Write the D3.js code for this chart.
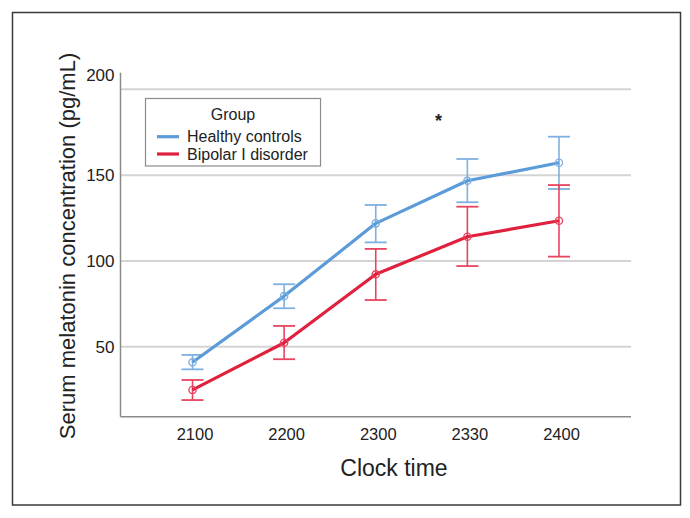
<!DOCTYPE html>
<html>
<head>
<meta charset="utf-8">
<script src="https://cdn.jsdelivr.net/npm/d3@7/dist/d3.min.js"></script>
<style>
  html, body { margin: 0; padding: 0; background: #fff; }
  svg { display: block; font-family: "Liberation Sans", Arial, Helvetica, sans-serif; }
</style>
</head>
<body>
<svg id="chart" width="690" height="518"></svg>
<script>
// ---- data ----
const times = ["2100", "2200", "2300", "2330", "2400"];
const healthyMean = [40.9, 79.5, 121.9, 146.7, 157.2];
const healthyLow  = [36.8, 72.4, 110.8, 134.2, 141.9];
const healthyHigh = [45.2, 86.4, 132.6, 159.4, 172.4];
const bipolarMean = [24.8, 52.3, 92.2, 114.1, 123.4];
const bipolarLow  = [18.9, 42.7, 77.2, 97.0, 102.5];
const bipolarHigh = [30.6, 62.1, 107.0, 131.6, 144.2];
const yTicks = [50, 100, 150, 200];
const seriesNames = ["Healthy controls", "Bipolar I disorder"];
const legendTitle = "Group";
const xTitle = "Clock time";
const yTitle = "Serum melatonin concentration (pg/mL)";
const sigMarkValue = 183;

// ---- setup ----
const svg = d3.select("#chart");
const pLeft = 120.5, pRight = 631, pTop = 72.7, pBottom = 416.7;

const x = d3.scalePoint().domain(times).range([pLeft, pRight]).padding(0.786);
const y = d3.scaleLinear().domain([9.2, 209.7]).range([pBottom, pTop]);

const series = [
  { name: seriesNames[0], mean: healthyMean, low: healthyLow, high: healthyHigh,
    line: "#5b9bd8", bar: "#7eb0e2" },
  { name: seriesNames[1], mean: bipolarMean, low: bipolarLow, high: bipolarHigh,
    line: "#e0213e", bar: "#e8445f" }
];

// outer frame
svg.append("rect").attr("x", 12.5).attr("y", 12.5).attr("width", 668).attr("height", 492.5)
  .attr("fill", "none").attr("stroke", "#3a3a3a").attr("stroke-width", 1.5);

// gridlines
svg.append("g").selectAll("line").data(yTicks).join("line")
  .attr("x1", pLeft).attr("x2", pRight)
  .attr("y1", d => y(d)).attr("y2", d => y(d))
  .attr("stroke", "#d4d4d4").attr("stroke-width", 2);

// axes
const yAxis = d3.axisLeft(y).tickValues(yTicks).tickSize(0).tickPadding(6);
const gy = svg.append("g").attr("transform", `translate(${pLeft},0)`).call(yAxis);
gy.select(".domain").attr("stroke", "#8a8a8a").attr("stroke-width", 1.5)
  .attr("d", `M0,${pTop}V${pBottom}`);
gy.selectAll(".tick text").attr("font-size", 17).attr("fill", "#222")
  .attr("font-family", "Liberation Sans, Arial, sans-serif")
  .attr("dy", d => d === 200 ? "-0.5em" : "0.34em");

const xAxis = d3.axisBottom(x).tickSize(0).tickPadding(12);
const gx = svg.append("g").attr("transform", `translate(0,${pBottom})`).call(xAxis);
gx.select(".domain").attr("stroke", "#8a8a8a").attr("stroke-width", 1.5)
  .attr("d", `M${pLeft},0H${pRight}`);
gx.selectAll(".tick text").attr("font-size", 16.5).attr("fill", "#222")
  .attr("font-family", "Liberation Sans, Arial, sans-serif")
  .attr("dx", 2);

// axis titles
svg.append("text").attr("x", 394).attr("y", 476).attr("text-anchor", "middle")
  .attr("font-size", 23).attr("fill", "#222").text(xTitle);
svg.append("text").attr("transform", `translate(74.5,246) rotate(-90)`)
  .attr("text-anchor", "middle").attr("font-size", 22).attr("fill", "#222").text(yTitle);

// error bars
const capW = 11;
series.forEach(s => {
  const g = svg.append("g");
  const idx = d3.range(times.length);
  g.selectAll("line.v").data(idx).join("line").attr("class", "v")
    .attr("x1", i => x(times[i])).attr("x2", i => x(times[i]))
    .attr("y1", i => y(s.low[i])).attr("y2", i => y(s.high[i]))
    .attr("stroke", s.bar).attr("stroke-width", 1.6);
  g.selectAll("line.lo").data(idx).join("line").attr("class", "lo")
    .attr("x1", i => x(times[i]) - capW).attr("x2", i => x(times[i]) + capW)
    .attr("y1", i => y(s.low[i])).attr("y2", i => y(s.low[i]))
    .attr("stroke", s.bar).attr("stroke-width", 1.8);
  g.selectAll("line.hi").data(idx).join("line").attr("class", "hi")
    .attr("x1", i => x(times[i]) - capW).attr("x2", i => x(times[i]) + capW)
    .attr("y1", i => y(s.high[i])).attr("y2", i => y(s.high[i]))
    .attr("stroke", s.bar).attr("stroke-width", 1.8);
});

// lines and markers
const lineGen = d3.line().x((d, i) => x(times[i])).y(d => y(d));
series.forEach(s => {
  svg.append("path").datum(s.mean).attr("d", lineGen)
    .attr("fill", "none").attr("stroke", s.line).attr("stroke-width", 3.2)
    .attr("stroke-linejoin", "round");
});
series.forEach(s => {
  svg.append("g").selectAll("circle").data(s.mean).join("circle")
    .attr("cx", (d, i) => x(times[i])).attr("cy", d => y(d)).attr("r", 3.6)
    .attr("fill", "none").attr("stroke", s.bar).attr("stroke-width", 1.4);
});

// significance asterisk
svg.append("text").attr("x", (x("2300") + x("2330")) / 2 + 17).attr("y", y(sigMarkValue) + 8)
  .attr("text-anchor", "middle").attr("font-size", 18).attr("font-weight", "bold")
  .attr("fill", "#222").text("*");

// legend
const lg = svg.append("g");
lg.append("rect").attr("x", 145.5).attr("y", 98.5).attr("width", 175).attr("height", 67.5)
  .attr("fill", "#fff").attr("stroke", "#8a8a8a").attr("stroke-width", 1.2);
lg.append("text").attr("x", 233).attr("y", 120).attr("text-anchor", "middle")
  .attr("font-size", 16).attr("fill", "#222").text(legendTitle);
series.forEach((s, i) => {
  const ly = 136.7 + i * 17.3;
  lg.append("line").attr("x1", 157).attr("x2", 179).attr("y1", ly).attr("y2", ly)
    .attr("stroke", s.line).attr("stroke-width", 3.2);
  lg.append("text").attr("x", 187).attr("y", ly + 5.6).attr("font-size", 16)
    .attr("fill", "#222").text(s.name);
});
</script>
</body>
</html>
